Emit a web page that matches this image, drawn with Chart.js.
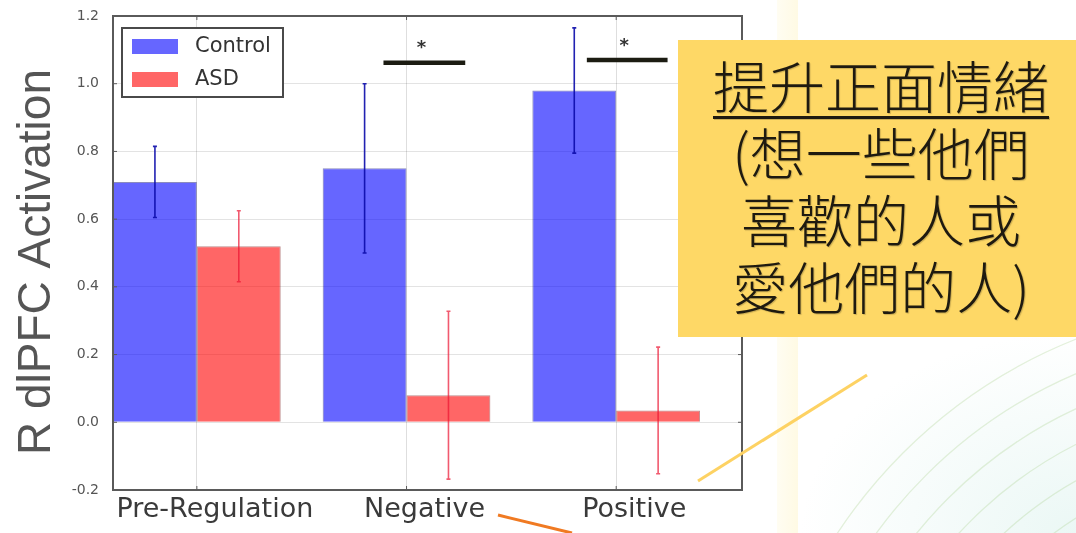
<!DOCTYPE html>
<html>
<head>
<meta charset="utf-8">
<script src="https://cdn.jsdelivr.net/npm/chart.js@4.4.0/dist/chart.umd.min.js"></script>
<style>
  html, body { margin: 0; padding: 0; background: #fff; overflow: hidden; }
  #wrap { position: relative; width: 1076px; height: 533px; overflow: hidden; }
  .layer { position: absolute; left: 0; top: 0; width: 1076px; height: 533px; }
  #strip { position: absolute; left: 777px; top: 0; width: 21px; height: 533px;
           background: linear-gradient(to right, #fffdf2, #fffae4); }
  #tint { position: absolute; left: 798px; top: 330px; width: 278px; height: 203px;
          background: radial-gradient(ellipse at 100% 100%, rgba(215,240,235,0.5), rgba(255,255,255,0) 70%); }
  #note { position: absolute; left: 678px; top: 40px; width: 406px; height: 297px;
          box-sizing: border-box; padding-top: 10px; background: #fed866;
          font-family: "Noto Sans CJK TC", "Noto Sans CJK SC", sans-serif; font-size: 56px;
          font-weight: 300; line-height: 67px; color: #1e1a10; text-align: center;
          text-shadow: 1px 1px 1px rgba(0,0,0,0.2); }
  #note .head { text-decoration: underline; text-decoration-thickness: 3px; text-underline-offset: 8px; }
</style>
</head>
<body>
<div id="wrap">
  <div id="strip"></div>
  <div id="tint"></div>
  <svg class="layer" width="1076" height="533">
    <g fill="none" stroke="rgba(160,205,130,0.28)" stroke-width="1.3">
      <circle cx="1265" cy="815" r="512"/>
      <circle cx="1265" cy="815" r="480"/>
      <circle cx="1265" cy="815" r="448"/>
      <circle cx="1265" cy="815" r="416"/>
      <circle cx="1265" cy="815" r="384"/>
      <circle cx="1265" cy="815" r="352"/>
    </g>
  </svg>
  <div class="layer"><canvas id="chart"></canvas></div>
  <svg class="layer" width="1076" height="533">
    <line x1="698" y1="481" x2="867" y2="375" stroke="#fdd263" stroke-width="3"/>
    <line x1="498" y1="515" x2="572" y2="533" stroke="#f07a22" stroke-width="3"/>
  </svg>
  <div id="note"><span class="head">提升正面情緒</span><br>(想一些他們<br>喜歡的人或<br>愛他們的人)</div>
</div>

<script>
// Chart values
const categories = ['Pre-Regulation', 'Negative', 'Positive'];
const controlMeans = [0.71, 0.75, 0.98];
const controlErrors = [0.105, 0.25, 0.185];
const asdMeans = [0.52, 0.08, 0.035];
const asdErrors = [0.105, 0.248, 0.187];
const yTickValues = [-0.2, 0.0, 0.2, 0.4, 0.6, 0.8, 1.0, 1.2];

// significance markers (data units)
const sigFrom = [0.89, 1.86];
const sigTo = [1.28, 2.245];
const sigHeight = [1.062, 1.07];
const sigLabel = ['*', '*'];

const errorData = [controlErrors, asdErrors];
const errorColors = ['rgba(10,10,170,0.9)', 'rgba(235,20,50,0.7)'];

const extras = {
  id: 'extras',
  afterDatasetsDraw(chart) {
    const c = chart.ctx;
    const xs = chart.scales.x, ys = chart.scales.y;

    // error bars
    chart.data.datasets.forEach((ds, d) => {
      const meta = chart.getDatasetMeta(d);
      c.save();
      c.strokeStyle = errorColors[d];
      c.lineWidth = 1.6;
      meta.data.forEach((bar, i) => {
        const v = ds.data[i].y, e = errorData[d][i];
        const top = ys.getPixelForValue(v + e), bot = ys.getPixelForValue(v - e);
        c.beginPath();
        c.moveTo(bar.x, top); c.lineTo(bar.x, bot);
        c.moveTo(bar.x - 2, top); c.lineTo(bar.x + 2, top);
        c.moveTo(bar.x - 2, bot); c.lineTo(bar.x + 2, bot);
        c.stroke();
      });
      c.restore();
    });

    // significance lines
    c.save();
    sigFrom.forEach((f, i) => {
      const y = ys.getPixelForValue(sigHeight[i]);
      c.strokeStyle = '#1c1c12';
      c.lineWidth = 4.5;
      c.beginPath();
      c.moveTo(xs.getPixelForValue(f), y);
      c.lineTo(xs.getPixelForValue(sigTo[i]), y);
      c.stroke();
      c.fillStyle = '#333';
      c.font = 'bold 18px "DejaVu Sans"';
      c.textAlign = 'center';
      c.textBaseline = 'middle';
      c.fillText(sigLabel[i], xs.getPixelForValue((f + sigTo[i]) / 2) - 3, y - 14);
    });
    c.restore();
  },
  afterDraw(chart) {
    const c = chart.ctx;
    const area = chart.chartArea;
    const xs = chart.scales.x, ys = chart.scales.y;

    // frame with inner ticks
    c.save();
    c.strokeStyle = '#5a5a5a';
    c.lineWidth = 2;
    c.strokeRect(area.left, area.top, area.right - area.left, area.bottom - area.top);
    c.lineWidth = 1;
    c.beginPath();
    yTickValues.forEach(v => {
      const y = ys.getPixelForValue(v);
      c.moveTo(area.left, y); c.lineTo(area.left + 4, y);
      c.moveTo(area.right, y); c.lineTo(area.right - 4, y);
    });
    xs.ticks.forEach(t => {
      const x = xs.getPixelForValue(t.value);
      c.moveTo(x, area.top); c.lineTo(x, area.top + 4);
      c.moveTo(x, area.bottom); c.lineTo(x, area.bottom - 4);
    });
    c.stroke();

    // legend box
    const lx = area.left + 9, ly = area.top + 12;
    c.fillStyle = '#fff';
    c.fillRect(lx, ly, 161, 69);
    c.lineWidth = 2;
    c.strokeStyle = '#4a4a4a';
    c.strokeRect(lx, ly, 161, 69);
    c.font = '21px "DejaVu Sans"';
    c.textBaseline = 'middle';
    c.textAlign = 'left';
    chart.data.datasets.forEach((ds, d) => {
      const rowY = ly + 18 + d * 33;
      c.fillStyle = ds.backgroundColor;
      c.fillRect(lx + 10, rowY - 7, 46, 15);
      c.fillStyle = '#333';
      c.fillText(ds.label, lx + 73, rowY + 1);
    });

    // y-axis title
    c.translate(37, 262);
    c.rotate(-Math.PI / 2);
    c.font = '46px "Liberation Sans"';
    c.fillStyle = '#555';
    c.textAlign = 'center';
    c.textBaseline = 'middle';
    c.fillText('R dlPFC Activation', 0, 0);
    c.restore();
  }
};

const ctx = document.getElementById('chart').getContext('2d');

const chart = new Chart(ctx, {
  type: 'bar',
  data: {
    datasets: [
      {
        label: 'Control',
        data: controlMeans.map((v, i) => ({ x: i, y: v })),
        backgroundColor: 'rgba(0,0,255,0.6)',
        borderColor: 'rgba(0,0,110,0.45)',
        borderWidth: 1
      },
      {
        label: 'ASD',
        data: asdMeans.map((v, i) => ({ x: i, y: v })),
        backgroundColor: 'rgba(255,0,0,0.6)',
        borderColor: 'rgba(110,0,0,0.45)',
        borderWidth: 1
      }
    ]
  },
  options: {
    responsive: true,
    maintainAspectRatio: false,
    animation: false,
    layout: { padding: { top: 16, right: 334, left: 0, bottom: 0 } },
    plugins: {
      legend: { display: false },
      tooltip: { enabled: false }
    },
    datasets: {
      bar: { categoryPercentage: 0.8, barPercentage: 1.0 }
    },
    scales: {
      x: {
        type: 'linear',
        offset: false,
        min: -0.4,
        max: 2.6,
        afterBuildTicks: (scale) => { scale.ticks = categories.map((c, i) => ({ value: i })); },
        afterFit: (scale) => { scale.height = 43; scale.paddingLeft = 0; scale.paddingRight = 0; },
        border: { display: false },
        grid: { offset: false, color: 'rgba(0,0,0,0.13)', drawTicks: false },
        ticks: {
          padding: 4,
          labelOffset: 18,
          color: '#3a3a3a',
          font: { family: 'DejaVu Sans', size: 27 },
          callback: (v) => categories[v]
        }
      },
      y: {
        min: -0.2,
        max: 1.2,
        afterBuildTicks: (scale) => { scale.ticks = yTickValues.map(v => ({ value: v })); },
        afterFit: (scale) => { scale.width = 113; scale.paddingTop = 0; scale.paddingBottom = 0; },
        border: { display: false },
        grid: { color: 'rgba(0,0,0,0.11)', drawTicks: false },
        ticks: {
          padding: 14,
          color: '#555',
          font: { family: 'DejaVu Sans', size: 14 },
          callback: (v) => v.toFixed(1)
        }
      }
    }
  },
  plugins: [extras]
});
</script>
</body>
</html>
